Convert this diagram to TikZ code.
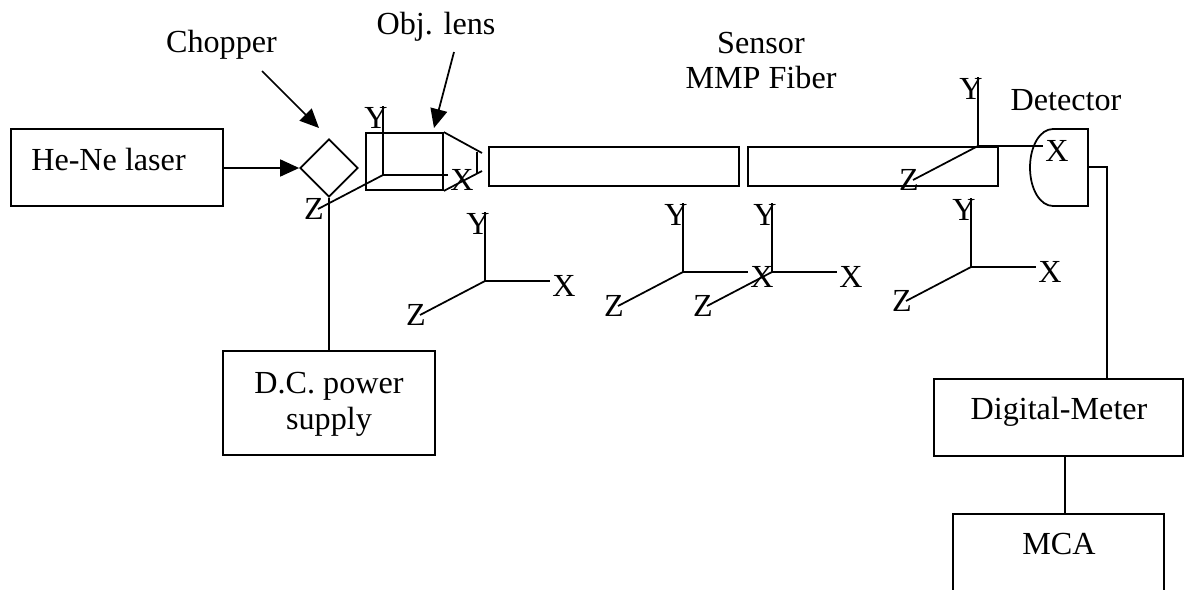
\documentclass[tikz,border=0pt]{standalone}
\usepackage{fontspec}
\setmainfont{Liberation Serif}
\usetikzlibrary{arrows.meta,shapes.geometric}
\tikzset{
  lbl/.style={font=\fontsize{18.3pt}{20.4pt}\selectfont,inner sep=0pt,align=center},
  boxnode/.style={draw,line width=.035cm,inner sep=0pt},
  wire/.style={line width=.035cm},
  pointer/.style={line width=.035cm,-{Triangle[length=.38cm,width=.34cm]}}
}
\begin{document}
\begin{tikzpicture}[x=.02cm,y=-.02cm]
\path[use as bounding box] (0,0) rectangle (1189,589);
% sources and optics
\node[boxnode,minimum width=4.24cm,minimum height=1.54cm] (laser) at (117,167.5) {};
\node[lbl] (laserlabel) at (108.5,159) {He-Ne laser};
\node[boxnode,diamond,aspect=1,minimum width=1.16cm,minimum height=1.16cm] (chopper) at (329,168) {};
\node[boxnode,minimum width=1.54cm,minimum height=1.14cm] (lens) at (404.5,161.5) {};
\node[boxnode,minimum width=5cm,minimum height=.78cm] (fiberA) at (614,166.5) {};
\node[boxnode,minimum width=5cm,minimum height=.78cm] (fiberB) at (873,166.5) {};
\node[boxnode,minimum width=4.24cm,minimum height=2.08cm] (power) at (329,403) {};
\node[lbl] (powerlabel) at (329,404) {D.C. power\\supply};
\node[boxnode,minimum width=4.98cm,minimum height=1.54cm] (meter) at (1058.5,417.5) {};
\node[lbl] (meterlabel) at (1059,411.5) {Digital-Meter};
\node[boxnode,minimum width=4.22cm,minimum height=2cm,anchor=north] (mca) at (1058.5,513) {};
\node[lbl] (mcalabel) at (1059,543.5) {MCA};
% taper on the lens
\coordinate (taperA) at (482,153);
\coordinate (taperB) at (482,171);
\coordinate (tipA) at (477,152);
\coordinate (tipB) at (477,173);
\draw[wire] (lens.north east) -- (taperA);
\draw[wire] (lens.south east) -- (taperB);
\draw[wire] (tipA) -- (tipB);
% detector
\draw[wire] (1088,129) -- (1053,129) .. controls (1040,129) and (1030,146) .. (1030,167.5) .. controls (1030,189) and (1040,206) .. (1053,206) -- (1088,206) -- cycle;
\coordinate (detout) at (1088,167);
\coordinate (meterin) at (1107,379);
\coordinate (meterout) at (1065,456);
\draw[wire] (detout) -| (meterin);
\draw[wire] (meterout) -- (mca.north -| meterout);
\draw[wire] (chopper.south) -- (power.north -| chopper.south);
\draw[pointer] (laser.east |- chopper.west) -- (chopper.west);
% labels with arrows
\node[lbl] (chopperlabel) at (221.5,45) {Chopper};
\node[lbl] (lenslabel) at (436,26.5) {Obj. lens};
\node[lbl] (sensorlabel) at (761,60.5) {Sensor\\MMP Fiber};
\node[lbl] (detlabel) at (1066,100.5) {Detector};
\coordinate (chopstart) at (262,71);
\coordinate (chopend) at (319,128);
\coordinate (lensstart) at (454,52);
\coordinate (lensend) at (434,128);
\draw[pointer] (chopstart) -- (chopend);
\draw[pointer] (lensstart) -- (lensend);
% axes
\foreach \n/\x/\y in {a/383/175,b/485/281,c/683/272,d/772/272,e/971/267,f/978/146} {
  \coordinate (\n o) at (\x,\y);
  \coordinate (\n y) at (\x,\y-69);
  \coordinate (\n x) at (\x+65,\y);
  \coordinate (\n z) at (\x-65,\y+34);
  \draw[wire] (\n y) -- (\n o) -- (\n x);
  \draw[wire] (\n o) -- (\n z);
  \node[lbl] (\n ylabel) at (\x-7,\y-57) {Y};
  \node[lbl] (\n xlabel) at (\x+79,\y+5) {X};
  \node[lbl] (\n zlabel) at (\x-69,\y+34) {Z};
}
\end{tikzpicture}
\end{document}
